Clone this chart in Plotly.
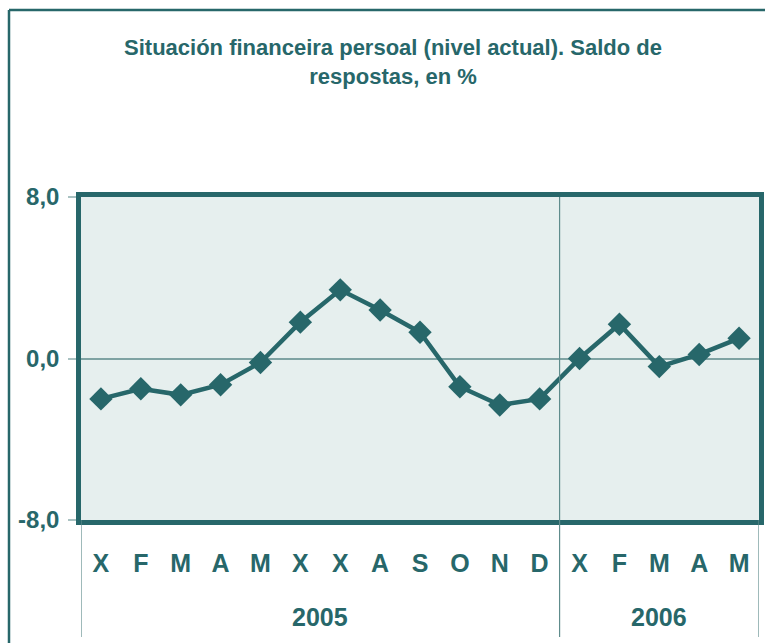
import plotly.graph_objects as go

months = ["X", "F", "M", "A", "M", "X", "X", "A", "S", "O", "N", "D", "X", "F", "M", "A", "M"]
values = [-2.0, -1.5, -1.8, -1.3, -0.2, 1.8, 3.4, 2.4, 1.3, -1.4, -2.3, -2.0, 0.0, 1.7, -0.4, 0.2, 1.0]
years = ["2005", "2006"]
year_counts = [12, 5]
y_ticks = [-8, 0, 8]
y_ticktext = ["-8,0", "0,0", "8,0"]

TEAL = "#27676a"
FONT = "Liberation Sans, Arial, sans-serif"

x = list(range(len(months)))

fig = go.Figure()
fig.add_trace(go.Scatter(
    x=x, y=values, mode="lines+markers",
    line=dict(color=TEAL, width=4.5),
    marker=dict(symbol="diamond", size=18, color=TEAL),
    hoverinfo="skip", showlegend=False,
))

n = len(months)
fig.update_xaxes(
    range=[-0.5, n - 0.5], tickmode="array", tickvals=x, ticktext=months,
    showgrid=False, zeroline=False, ticks="",
    showline=True, mirror=True, linecolor=TEAL, linewidth=4.5,
    tickfont=dict(family=FONT, size=25, color=TEAL, weight="bold"),
    ticklabelstandoff=17,
)
fig.update_yaxes(
    range=[-8, 8], tickmode="array", tickvals=y_ticks, ticktext=y_ticktext,
    showgrid=False, zeroline=True, zerolinecolor="#7fa3a3", zerolinewidth=1.5,
    ticks="outside", ticklen=8, tickcolor="#a9c2c2", tickwidth=1.5,
    showline=True, mirror=True, linecolor=TEAL, linewidth=4.5,
    tickfont=dict(family=FONT, size=24, color=TEAL, weight="bold"),
    ticklabelstandoff=4,
)

shapes = []
# year dividers
pos = -0.5
bounds = [pos]
for c in year_counts:
    pos += c
    bounds.append(pos)
for i, b in enumerate(bounds):
    shapes.append(dict(type="line", xref="x", yref="paper", x0=b, x1=b,
                       y0=-0.362, y1=1 if 0 < i < len(bounds) - 1 else 0,
                       line=dict(color="#5f8c8c", width=1.2), layer="above"))
# outer frame
shapes.append(dict(type="line", xref="paper", yref="paper", x0=-0.1062, x1=1.02,
                   y0=1.579, y1=1.579, line=dict(color=TEAL, width=2.5)))
shapes.append(dict(type="line", xref="paper", yref="paper", x0=-0.1062, x1=-0.1062,
                   y0=1.579, y1=-0.4, line=dict(color=TEAL, width=2.5)))

annotations = []
for i, yl in enumerate(years):
    cx = (bounds[i] + bounds[i + 1]) / 2
    annotations.append(dict(x=cx, xref="x", y=-0.300, yref="paper", text=yl,
                            showarrow=False, yanchor="middle",
                            font=dict(family=FONT, size=25, color=TEAL, weight="bold")))

fig.update_layout(
    width=765, height=643,
    margin=dict(l=81, r=1, t=197, b=123),
    paper_bgcolor="white", plot_bgcolor="#e6efee",
    shapes=shapes, annotations=annotations,
    title=dict(
        text="Situación financeira persoal (nivel actual). Saldo de<br>respostas, en %",
        x=393 / 765, xanchor="center", y=1 - 55 / 643, yanchor="middle",
        font=dict(family=FONT, size=22, color=TEAL, weight="bold"),
    ),
)

fig.write_html("out.html", config={"displayModeBar": False},
               post_script="document.body.style.margin='0';")
